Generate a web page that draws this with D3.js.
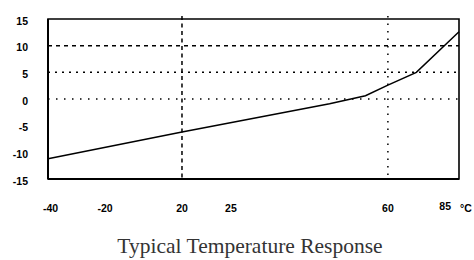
<!DOCTYPE html>
<meta charset="utf-8">
<body style="margin:0;background:#fff">

<script src="https://d3js.org/d3.v7.min.js"></script>

<script>

// data
var temps = [-40, 20, 47, 55, 60, 70, 85];
var resp  = [-11.2, -6.2, -0.9, 0.6, 2.6, 5.0, 12.6];
var xTicks = [-40, -20, 20, 25, 60, 85];
var yTicks = [15, 10, 5, 0, -5, -10, -15];
var xUnit = '\u00b0C';
var title = 'Typical Temperature Response';

// horizontal grid at 10 / 5 / 0, vertical at 20 / 60
var hGrid = [10, 5, 0];
var vGrid = [20, 60];

var VP = { w: 474, h: 260 }
var P = { l: 48, r: 459, t: 19, b: 179 }

var svg = d3.select('body')
    .append('svg')
    .attr('width', VP.w)
    .attr('height', VP.h)
    .style('display', 'block');

// the x axis is not linear in the original, so piecewise over the tick stops
var w = P.r - P.l;
var x = d3.scaleLinear()
    .domain(xTicks)
    .range([0, 0.139, 0.326, 0.445, 0.827, 1].map(f => P.l + f * w));

var y = d3.scaleLinear()
    .domain([-15, 15])
    .range([P.b, P.t]);

var dashH = { 10: '4,4', 5: '2,5', 0: '1.5,6.5' };
var dashV = { 20: '4,3.5', 60: '1.5,6' };

svg.selectAll('.hg').data(hGrid).enter()
  .append('line')
    .attr('x1', P.l).attr('x2', P.r)
    .attr('y1', d => y(d)).attr('y2', d => y(d))
    .attr('stroke', '#000')
    .attr('stroke-width', 1.5)
    .attr('stroke-dasharray', d => dashH[d]);

svg.selectAll('.vg').data(vGrid).enter()
  .append('line')
    .attr('x1', d => x(d)).attr('x2', d => x(d))
    .attr('y1', P.t - 3).attr('y2', P.b)
    .attr('stroke', '#000')
    .attr('stroke-width', 1.5)
    .attr('stroke-dasharray', d => dashV[d]);

// frame
svg.append('path')
    .attr('d', `M ${P.l} ${P.b} L ${P.l} ${P.t} L ${P.r} ${P.t} L ${P.r} ${P.b} Z`)
    .attr('fill', 'none')
    .attr('stroke', '#000')
    .attr('stroke-width', 1.6);
svg.append('line')
    .attr('x1', P.l).attr('x2', P.r)
    .attr('y1', P.b).attr('y2', P.b)
    .attr('stroke', '#000')
    .attr('stroke-width', 2);
svg.append('line')
    .attr('x1', P.l).attr('x2', P.l)
    .attr('y1', P.t).attr('y2', P.b)
    .attr('stroke', '#000')
    .attr('stroke-width', 2);

// response curve
var line = d3.line()
    .x((d, i) => x(temps[i]))
    .y(d => y(d));

svg.append('path')
    .datum(resp)
    .attr('d', line)
    .attr('fill', 'none')
    .attr('stroke', '#000')
    .attr('stroke-width', 1.5);

// y labels
svg.selectAll('.yl').data(yTicks).enter()
  .append('text')
    .text(d => d)
    .attr('x', 28)
    .attr('y', d => y(d) + 5.5)
    .attr('text-anchor', 'end')
    .attr('font-family', 'Liberation Sans, Arial, sans-serif')
    .attr('font-weight', 'bold')
    .attr('font-size', 10.5)
    .attr('fill', '#000');

// x labels
var last = xTicks.length - 1;
svg.selectAll('.xl').data(xTicks).enter()
  .append('text')
    .text(d => d)
    .attr('x', (d, i) => i == 0 ? x(d) - 5 : i == last ? x(d) - 8 : x(d))
    .attr('y', (d, i) => i == last ? 210 : 212)
    .attr('text-anchor', (d, i) => i == 0 ? 'start' : i == last ? 'end' : 'middle')
    .attr('font-family', 'Liberation Sans, Arial, sans-serif')
    .attr('font-weight', 'bold')
    .attr('font-size', 10.5)
    .attr('fill', '#000');

svg.append('text')
    .text(xUnit)
    .attr('x', 460)
    .attr('y', 212)
    .attr('font-family', 'Liberation Sans, Arial, sans-serif')
    .attr('font-weight', 'bold')
    .attr('font-size', 10.5)
    .attr('fill', '#000');

svg.append('text')
    .text(title)
    .attr('x', 250)
    .attr('y', 253)
    .attr('text-anchor', 'middle')
    .attr('font-family', 'Liberation Serif, Times New Roman, serif')
    .attr('font-size', 21.5)
    .attr('fill', '#333');

</script>
</body>
</html>
